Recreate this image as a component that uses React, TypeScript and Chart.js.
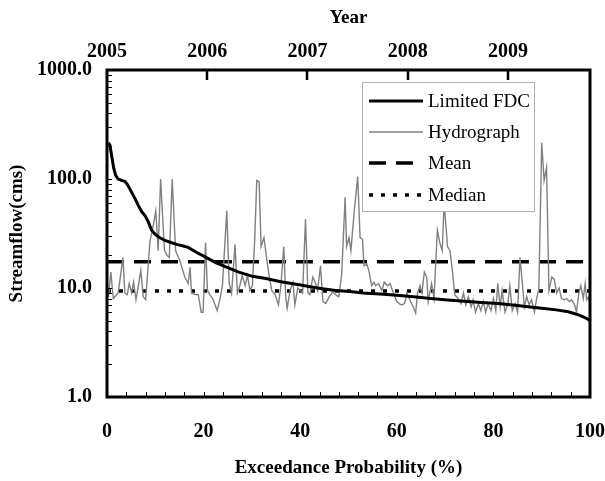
import React, { useEffect, useRef } from 'react';
import { Chart, registerables } from 'chart.js';

Chart.register(...registerables);

// Limited flow duration curve (exceedance probability %, streamflow cms)
const fdcP = [0.3, 0.6, 1.0, 1.4, 1.8, 2.3, 3.0, 3.7, 4.3, 5.0, 5.8, 6.5, 7.2, 7.9, 8.6, 9.2, 10.0, 10.6, 12.0, 13.4, 14.6, 15.8, 16.8, 18.4, 20.4, 22.5, 24.6, 27.3, 30.1, 32.9, 36.0, 39.8, 43.5, 47.3, 50.3, 53, 56.5, 60, 63.5, 67, 70.5, 74, 77.5, 81, 84.5, 87.6, 90.5, 93, 95.5, 97.2, 98.5, 99.5, 100];
const fdcQ = [215, 205, 160, 125, 108, 100, 97, 95, 88, 77, 66, 57, 50, 46, 40, 34, 31, 29.5, 27.3, 26, 25, 24.3, 23.6, 21.4, 19.2, 17.1, 15.6, 14, 12.8, 12.2, 11.4, 10.7, 10.0, 9.5, 9.3, 9.0, 8.8, 8.6, 8.3, 8.0, 7.75, 7.55, 7.35, 7.2, 6.95, 6.7, 6.5, 6.3, 6.05, 5.75, 5.45, 5.2, 5.0];

// Hydrograph (position along the record, streamflow cms)
const hydroP = [0.3, 0.8, 1.3, 1.8, 2.3, 2.8, 3.3, 3.7, 4.2, 4.6, 5.1, 5.5, 6.0, 6.5, 7.0, 7.5, 8.0, 8.9, 9.6, 10.1, 10.6, 11.1, 11.9, 12.4, 12.9, 13.5, 14.2, 15.1, 16.1, 16.8, 17.2, 17.5, 18.2, 18.9, 19.5, 19.9, 20.4, 20.8, 21.3, 22.0, 22.8, 23.4, 23.9, 24.8, 25.3, 25.8, 26.5, 27.0, 27.5, 28.0, 28.6, 29.1, 29.6, 30.1, 30.6, 31.0, 31.5, 31.9, 32.5, 33.1, 33.5, 34.1, 34.8, 35.5, 36.0, 36.6, 37.0, 37.3, 37.9, 38.5, 38.9, 39.5, 40.0, 40.5, 41.1, 41.6, 42.0, 42.6, 43.1, 43.6, 44.2, 44.7, 45.3, 46.0, 46.7, 47.3, 48.0, 48.6, 49.3, 49.6, 50.1, 50.5, 51.2, 51.9, 52.4, 52.9, 53.2, 53.8, 54.2, 54.8, 55.3, 55.6, 56.2, 56.9, 57.4, 58.1, 58.6, 59.3, 60.0, 60.5, 61.0, 61.6, 62.1, 62.7, 63.4, 63.9, 64.3, 64.8, 65.2, 65.7, 66.2, 66.5, 67.2, 67.7, 68.4, 68.9, 69.4, 69.8, 70.5, 71.0, 71.5, 72.0, 72.7, 73.3, 73.8, 74.3, 74.8, 75.4, 75.8, 76.3, 76.9, 77.4, 77.9, 78.4, 78.9, 79.5, 80.0, 80.5, 80.9, 81.4, 81.8, 82.4, 83.0, 83.4, 83.9, 84.5, 85.0, 85.5, 86.0, 86.4, 86.9, 87.4, 87.9, 88.5, 89.0, 89.4, 90.0, 90.5, 91.0, 91.5, 92.1, 92.6, 93.1, 93.6, 94.1, 94.7, 95.2, 95.7, 96.2, 96.8, 97.2, 97.7, 98.1, 98.6, 99.0, 99.3, 99.7, 100];
const hydroQ = [8.3, 14, 8, 8.5, 9, 13, 19, 9, 8.7, 11, 9, 11.3, 7.8, 10.5, 14.5, 8.3, 7.8, 27, 38, 51, 22, 100, 22, 20, 19, 100, 22, 17.7, 12.6, 11, 15.5, 9, 8.7, 8.7, 6, 6, 26, 9.5, 8.7, 7.8, 6.2, 8, 10.5, 51, 11, 9, 25, 9, 10.5, 13, 10.5, 13, 9.5, 10.5, 29, 97, 94, 24, 29, 18, 13.5, 9.5, 8.7, 7, 10.5, 24, 8.3, 6.5, 9.5, 11.3, 7, 10, 9.5, 9, 43, 9, 8.7, 12.6, 11.3, 9.5, 16, 7.5, 7.2, 8.3, 9.2, 8.7, 8.3, 13.5, 68, 24, 29, 22, 51, 105, 29, 28, 16, 16.5, 14.5, 10.5, 11.3, 10.5, 11, 9.5, 11.3, 10.5, 11, 9, 7.5, 7.2, 7, 7.2, 9, 7.8, 6.7, 5.9, 9, 10.5, 9, 14, 12.6, 7.5, 11, 8, 34, 26, 22, 60, 24, 22, 14.5, 8.7, 8, 7.2, 9, 7, 8.3, 6.7, 7.8, 6, 7.2, 6.2, 7.5, 6, 7.2, 6.2, 8, 6.2, 11, 6.7, 9.5, 6, 7.2, 10.5, 6.2, 7.2, 6, 19, 11, 6.7, 8.3, 7, 7.8, 6, 8.3, 9.5, 215, 97, 128, 9.5, 12.6, 12, 9, 10, 8, 7.8, 8, 7.5, 7.8, 7, 6, 9, 10.5, 8, 11, 7.8, 8.3, 7];

const meanFlow = 17.4;
const medianFlow = 9.4;

const xTickValues = [0, 20, 40, 60, 80, 100];
const xMinorTicks = [4, 8, 12, 16, 20, 24, 28, 32, 36, 40, 44, 48, 52, 56, 60, 64, 68, 72, 76, 80, 84, 88, 92, 96];
const yTickValues = [1, 10, 100, 1000];
const yMinorTicks = [2, 3, 4, 5, 6, 7, 8, 9, 10, 20, 30, 40, 50, 60, 70, 80, 90, 100, 200, 300, 400, 500, 600, 700, 800, 900];
const yearTicks = [2005, 2006, 2007, 2008, 2009];
const yearMax = 2009.818;

const legendLabels = ['Limited FDC', 'Hydrograph', 'Mean', 'Median'];

const SERIF = "'Liberation Serif', 'Times New Roman', serif";
const tickFont = { family: SERIF, size: 20, weight: 'bold' as const };
const titleFont = { family: SERIF, size: 19, weight: 'bold' as const };

const decorPlugin = {
  id: 'decor',
  afterDraw(chart: any) {
    const { ctx, chartArea, scales } = chart;
    const { left, top, right, bottom } = chartArea;
    ctx.save();
    ctx.strokeStyle = '#000';
    // bottom minor ticks (inward)
    ctx.lineWidth = 1;
    ctx.beginPath();
    for (const v of xMinorTicks) {
      const px = Math.round(scales.x.getPixelForValue(v)) + 0.5;
      ctx.moveTo(px, bottom);
      ctx.lineTo(px, bottom - 5);
    }
    // left minor ticks (inward)
    for (const v of yMinorTicks) {
      const py = Math.round(scales.y.getPixelForValue(v)) + 0.5;
      ctx.moveTo(left, py);
      ctx.lineTo(left + 5, py);
    }
    ctx.stroke();
    // year ticks on top axis
    ctx.lineWidth = 2.5;
    ctx.beginPath();
    for (const v of yearTicks.slice(1)) {
      const px = Math.round(scales.x2.getPixelForValue(v));
      ctx.moveTo(px, top);
      ctx.lineTo(px, top + 10);
    }
    ctx.stroke();

    // legend
    const lx = 362, ly = 82, lw = 172, lh = 129;
    ctx.fillStyle = '#fff';
    ctx.fillRect(lx, ly, lw, lh);
    ctx.strokeStyle = '#b0b0b0';
    ctx.lineWidth = 1;
    ctx.strokeRect(lx + 0.5, ly + 0.5, lw, lh);
    const rows = [19, 50, 81, 113];
    chart.data.datasets.forEach((ds: any, i: number) => {
      const cy = ly + rows[i];
      ctx.save();
      ctx.strokeStyle = ds.borderColor;
      ctx.lineWidth = ds.borderWidth;
      ctx.setLineDash(ds.borderDash || []);
      ctx.beginPath();
      ctx.moveTo(369, cy);
      ctx.lineTo(423, cy);
      ctx.stroke();
      ctx.restore();
      ctx.fillStyle = '#000';
      ctx.font = `19px ${SERIF}`;
      ctx.textBaseline = 'middle';
      ctx.textAlign = 'left';
      ctx.fillText(legendLabels[i], 428, cy + 1);
    });

    // frame
    ctx.strokeStyle = '#000';
    ctx.lineWidth = 3;
    ctx.setLineDash([]);
    ctx.strokeRect(left, top, right - left, bottom - top);
    ctx.restore();
  },
};

export default function App() {
  const ref = useRef<HTMLCanvasElement>(null);
  useEffect(() => {
    const canvas = ref.current!;
    const chart = new Chart(canvas, {
      type: 'line',
      data: {
        datasets: [
          {
            label: legendLabels[0],
            data: fdcP.map((p, i) => ({ x: p, y: fdcQ[i] })),
            borderColor: '#000',
            borderWidth: 3,
            pointRadius: 0,
            xAxisID: 'x',
            yAxisID: 'y',
          },
          {
            label: legendLabels[1],
            data: hydroP.map((p, i) => ({ x: p, y: hydroQ[i] })),
            borderColor: '#808080',
            borderWidth: 1.4,
            pointRadius: 0,
            xAxisID: 'x',
            yAxisID: 'y',
          },
          {
            label: legendLabels[2],
            data: [{ x: 0, y: meanFlow }, { x: 100, y: meanFlow }],
            borderColor: '#000',
            borderWidth: 3.5,
            borderDash: [17, 10],
            pointRadius: 0,
            xAxisID: 'x',
            yAxisID: 'y',
          },
          {
            label: legendLabels[3],
            data: [{ x: 0, y: medianFlow }, { x: 100, y: medianFlow }],
            borderColor: '#000',
            borderWidth: 3.5,
            borderDash: [4, 8],
            pointRadius: 0,
            xAxisID: 'x',
            yAxisID: 'y',
          },
        ],
      },
      options: {
        responsive: false,
        animation: false,
        devicePixelRatio: 1,
        layout: { padding: { left: 0, right: 15, top: 0, bottom: 0 } },
        plugins: { legend: { display: false }, tooltip: { enabled: false } },
        scales: {
          x: {
            type: 'linear',
            position: 'bottom',
            min: 0,
            max: 100,
            grid: { display: false, drawTicks: false },
            border: { display: false },
            afterBuildTicks: (s: any) => { s.ticks = xTickValues.map((v) => ({ value: v })); },
            ticks: { font: tickFont, color: '#000', padding: 23, maxRotation: 0, autoSkip: false, callback: (v: any) => String(v) },
            title: { display: true, text: 'Exceedance Probability (%)', font: titleFont, color: '#000', padding: { top: 0, bottom: 2 } },
            afterFit: (s: any) => { s.height = 84; s.paddingLeft = 0; s.paddingRight = 0; },
          },
          x2: {
            type: 'linear',
            axis: 'x',
            position: 'top',
            min: 2005,
            max: yearMax,
            grid: { display: false, drawTicks: false },
            border: { display: false },
            afterBuildTicks: (s: any) => { s.ticks = yearTicks.map((v) => ({ value: v })); },
            ticks: { font: tickFont, color: '#000', padding: 6, maxRotation: 0, autoSkip: false, callback: (v: any) => String(v) },
            title: { display: true, text: 'Year', font: titleFont, color: '#000', padding: { top: 7, bottom: 0 } },
            afterFit: (s: any) => { s.height = 70; s.paddingLeft = 0; s.paddingRight = 0; },
          },
          y: {
            type: 'logarithmic',
            position: 'left',
            min: 1,
            max: 1000,
            grid: { display: false, drawTicks: false },
            border: { display: false },
            afterBuildTicks: (s: any) => { s.ticks = yTickValues.map((v) => ({ value: v })); },
            ticks: { font: tickFont, color: '#000', padding: 15, autoSkip: false, callback: (v: any) => Number(v).toFixed(1) },
            title: { display: true, text: 'Streamflow(cms)', font: titleFont, color: '#000', padding: { top: 6, bottom: 0 } },
            afterFit: (s: any) => { s.width = 107; s.paddingTop = 0; s.paddingBottom = 0; },
          },
        },
      },
      plugins: [decorPlugin],
    } as any);
    return () => chart.destroy();
  }, []);
  return (
    <div style={{ position: 'absolute', left: 0, top: 0, width: 605, height: 481, background: '#fff' }}>
      <canvas ref={ref} width={605} height={481} style={{ width: 605, height: 481, display: 'block' }} />
    </div>
  );
}
